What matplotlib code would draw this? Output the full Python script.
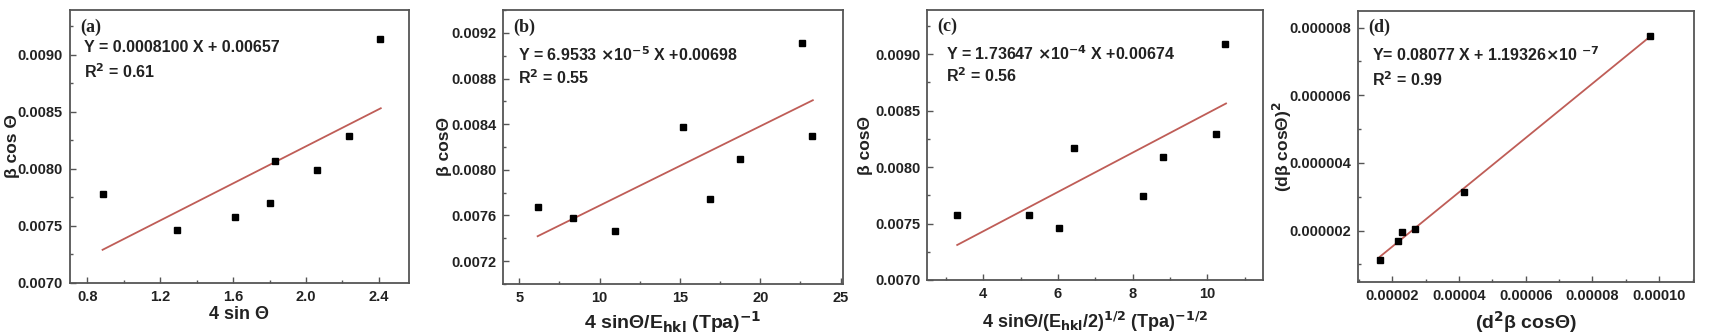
import matplotlib
matplotlib.use("Agg")
import matplotlib.pyplot as plt
from matplotlib.ticker import MultipleLocator, FormatStrFormatter

plt.rcParams['font.family'] = ['Liberation Sans', 'DejaVu Sans']
plt.rcParams['font.weight'] = 'bold'
plt.rcParams['mathtext.default'] = 'bf'

# (a) UDM
xa = [0.884, 1.293, 1.613, 1.801, 1.828, 2.058, 2.236, 2.404]
ya = [0.00778, 0.00746, 0.00758, 0.00770, 0.00807, 0.00799, 0.00829, 0.00914]
fit_xa = [0.884, 2.41]
fit_ya = [0.00729, 0.00853]

# (b) USDM
xb = [6.14, 8.32, 10.95, 15.19, 16.87, 18.74, 22.61, 23.23]
yb = [0.007677, 0.007578, 0.007464, 0.008374, 0.007742, 0.008096, 0.009112, 0.008295]
fit_xb = [6.14, 23.27]
fit_yb = [0.007418, 0.008610]

# (c) UDEDM
xc = [3.30, 5.21, 6.02, 6.43, 8.28, 8.81, 10.24, 10.48]
yc = [0.007575, 0.007575, 0.007456, 0.008167, 0.007744, 0.008093, 0.008292, 0.009092]
fit_xc = [3.30, 10.50]
fit_yc = [0.007310, 0.008563]

# (d) SSP
xd = [1.63e-5, 2.18e-5, 2.30e-5, 2.68e-5, 4.16e-5, 9.72e-5]
yd = [1.12e-6, 1.70e-6, 1.97e-6, 2.06e-6, 3.13e-6, 7.76e-6]
fit_xd = [1.63e-5, 9.72e-5]
fit_yd = [1.23e-6, 7.73e-6]

line_col = '#bf5d57'
spine_col = '#555555'

fig = plt.figure(figsize=(17.1, 3.36), dpi=100)

panels = [
    dict(rect=[0.0409, 0.158, 0.1983, 0.812], x=xa, y=ya, fx=fit_xa, fy=fit_ya,
         xlim=(0.705, 2.565), ylim=(0.0070, 0.00939), xmaj=0.4, ymaj=0.0005,
         xfmt='%.1f', yfmt='%.4f', lab='(a)',
         eq='Y = 0.0008100 X + 0.00657', r2='R$^2$ = 0.61',
         xlabel='4 sin \u0398', ylabel='\u03b2 cos \u0398', xl_size=13,
         xlc=-0.117, ylc=-0.168, tx=0.04, ty=(0.864, 0.773)),
    dict(rect=[0.2943, 0.155, 0.1987, 0.815], x=xb, y=yb, fx=fit_xb, fy=fit_yb,
         xlim=(4.0, 25.15), ylim=(0.0070, 0.0094), xmaj=5, ymaj=0.0004,
         xfmt='%d', yfmt='%.4f', lab='(b)',
         eq='Y = 6.9533 $\\times$10$^{-5}$ X +0.00698', r2='R$^2$ = 0.55',
         xlabel='4 sin\u0398/E$_{\\mathbf{hkl}}$ (Tpa)$^{-1}$', ylabel='\u03b2 cos\u0398', xl_size=14,
         xlc=-0.139, ylc=-0.172, tx=0.043, ty=(0.836, 0.755)),
    dict(rect=[0.5423, 0.1667, 0.1965, 0.8033], x=xc, y=yc, fx=fit_xc, fy=fit_yc,
         xlim=(2.5, 11.5), ylim=(0.0070, 0.00939), xmaj=2, ymaj=0.0005,
         xfmt='%d', yfmt='%.4f', lab='(c)',
         eq='Y = 1.73647 $\\times$10$^{-4}$ X +0.00674', r2='R$^2$ = 0.56',
         xlabel='4 sin\u0398/(E$_{\\mathbf{hkl}}$/2)$^{1/2}$ (Tpa)$^{-1/2}$', ylabel='\u03b2 cos\u0398', xl_size=13,
         xlc=-0.156, ylc=-0.185, tx=0.055, ty=(0.837, 0.756)),
    dict(rect=[0.7943, 0.1616, 0.1963, 0.8066], x=xd, y=yd, fx=fit_xd, fy=fit_yd,
         xlim=(0.98e-5, 1.104e-4), ylim=(0.49e-6, 8.5e-6), xmaj=2e-5, ymaj=2e-6,
         xfmt='%.5f', yfmt='%.6f', lab='(d)',
         eq='Y= 0.08077 X + 1.19326$\\times$10 $^{-7}$', r2='R$^2$ = 0.99',
         xlabel='(d$^2$\u03b2 cos\u0398)', ylabel='(d\u03b2 cos\u0398)$^2$', xl_size=14,
         xlc=-0.149, ylc=-0.227, tx=0.04, ty=(0.836, 0.744)),
]

for p in panels:
    ax = fig.add_axes(p['rect'])
    ax.plot(p['fx'], p['fy'], color=line_col, lw=1.3, zorder=2)
    ax.plot(p['x'], p['y'], 's', color='black', ms=4.5, zorder=3)
    ax.set_xlim(*p['xlim'])
    ax.set_ylim(*p['ylim'])
    ax.xaxis.set_major_locator(MultipleLocator(p['xmaj']))
    ax.xaxis.set_minor_locator(MultipleLocator(p['xmaj'] / 2))
    ax.yaxis.set_major_locator(MultipleLocator(p['ymaj']))
    ax.yaxis.set_minor_locator(MultipleLocator(p['ymaj'] / 2))
    ax.xaxis.set_major_formatter(FormatStrFormatter(p['xfmt']))
    ax.yaxis.set_major_formatter(FormatStrFormatter(p['yfmt']))
    ax.tick_params(which='both', direction='in', colors=spine_col, labelcolor='#222222',
                   labelsize=10.5, top=False, right=False)
    ax.tick_params(which='major', length=4, width=1, pad=5)
    ax.tick_params(which='minor', length=2, width=1)
    for lbl in ax.get_xticklabels() + ax.get_yticklabels():
        lbl.set_fontweight('bold')
    for s in ax.spines.values():
        s.set_color(spine_col)
        s.set_linewidth(1.3)
    xl = ax.set_xlabel(p['xlabel'], fontsize=p['xl_size'], fontweight='bold', color='#222222')
    xl.set_va('center')
    ax.xaxis.set_label_coords(0.5, p['xlc'])
    yl = ax.set_ylabel(p['ylabel'], fontsize=12.5, fontweight='bold', color='#222222')
    yl.set_va('center')
    ax.yaxis.set_label_coords(p['ylc'], 0.5)
    ax.text(0.03, 0.97, p['lab'], transform=ax.transAxes, va='top', ha='left',
            fontsize=13, fontweight='bold', family='Liberation Serif', color='#222222')
    ax.text(p['tx'], p['ty'][0], p['eq'], transform=ax.transAxes, va='center', ha='left',
            fontsize=11.5, fontweight='bold', color='#222222')
    ax.text(p['tx'], p['ty'][1], p['r2'], transform=ax.transAxes, va='center', ha='left',
            fontsize=11.5, fontweight='bold', color='#222222')

fig.savefig('out.png', dpi=100)
